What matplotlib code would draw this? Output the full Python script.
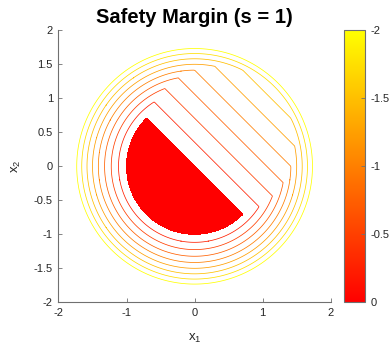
import numpy as np
import matplotlib
matplotlib.use('Agg')
import matplotlib.pyplot as plt
from matplotlib.colors import Normalize
from matplotlib.cm import ScalarMappable

# ---- data ----
contour_levels = [-2.0, -1.75, -1.5, -1.25, -1.0, -0.75, -0.5, -0.25]
fill_level = 0.0
target_radius = 1.0
color_limits = [-2.0, 0.0]
x_ticks = [-2, -1, 0, 1, 2]
y_ticks = [-2, -1.5, -1, -0.5, 0, 0.5, 1, 1.5, 2]
cbar_ticks = [0, -0.5, -1, -1.5, -2]
cbar_labels = ['0', '-0.5', '-1', '-1.5', '-2']
x_tick_labels = ['-2', '-1', '0', '1', '2']
y_tick_labels = ['-2', '-1.5', '-1', '-0.5', '0', '0.5', '1', '1.5', '2']
title_text = 'Safety Margin (s = 1)'

plt.rcParams['font.family'] = ['Liberation Sans', 'DejaVu Sans']
plt.rcParams['mathtext.fontset'] = 'custom'
plt.rcParams['mathtext.rm'] = 'Liberation Sans'
plt.rcParams['mathtext.it'] = 'Liberation Sans'
plt.rcParams['axes.unicode_minus'] = False

# safety margin field: min(target margin, half-plane margin)
x = np.linspace(-2, 2, 401)
X1, X2 = np.meshgrid(x, x)
l_target = target_radius**2 - X1**2 - X2**2
g_plane = -(X1 + X2) / np.sqrt(2)
V = np.minimum(l_target, g_plane)

fig = plt.figure(figsize=(3.91, 3.47), dpi=100)
ax = fig.add_axes([0.1496, 0.1288, 0.6962, 0.7839])
cax = fig.add_axes([0.8806, 0.1288, 0.0537, 0.7839])

norm = Normalize(vmin=color_limits[0], vmax=color_limits[1])
cmap = plt.get_cmap('autumn_r')

ax.contourf(X1, X2, V, levels=[fill_level, V.max() + 1], colors=['#ff0000'])
ax.contour(X1, X2, V, levels=contour_levels, cmap=cmap, norm=norm,
           linewidths=0.55)

ax.set_xlim(-2, 2)
ax.set_ylim(-2, 2)
ax.set_xticks(x_ticks)
ax.set_xticklabels(x_tick_labels)
ax.set_yticks(y_ticks)
ax.set_yticklabels(y_tick_labels)
for s in ['top', 'right']:
    ax.spines[s].set_visible(False)
for s in ['left', 'bottom']:
    ax.spines[s].set_color('#707070')
    ax.spines[s].set_linewidth(0.8)
ax.tick_params(direction='in', length=3, width=0.6, colors='#707070',
               labelcolor='#262626', labelsize=8, pad=4)
ax.set_xlabel('$\\mathregular{x_1}$', fontsize=9.5, color='#262626', labelpad=10)
ax.set_ylabel('$\\mathregular{x_2}$', fontsize=9.5, color='#262626', labelpad=8)
ax.set_title(title_text, fontsize=14.5, fontweight='bold', pad=5)

sm = ScalarMappable(norm=norm, cmap=cmap)
cb = fig.colorbar(sm, cax=cax, ticks=cbar_ticks)
cb.ax.set_yticklabels(cbar_labels)
cax.invert_yaxis()
cb.outline.set_edgecolor('#707070')
cb.outline.set_linewidth(0.8)
cax.tick_params(direction='in', length=3, width=0.6, colors='#707070',
                labelcolor='#262626', labelsize=8, pad=4)

fig.savefig('out.png', dpi=100)
